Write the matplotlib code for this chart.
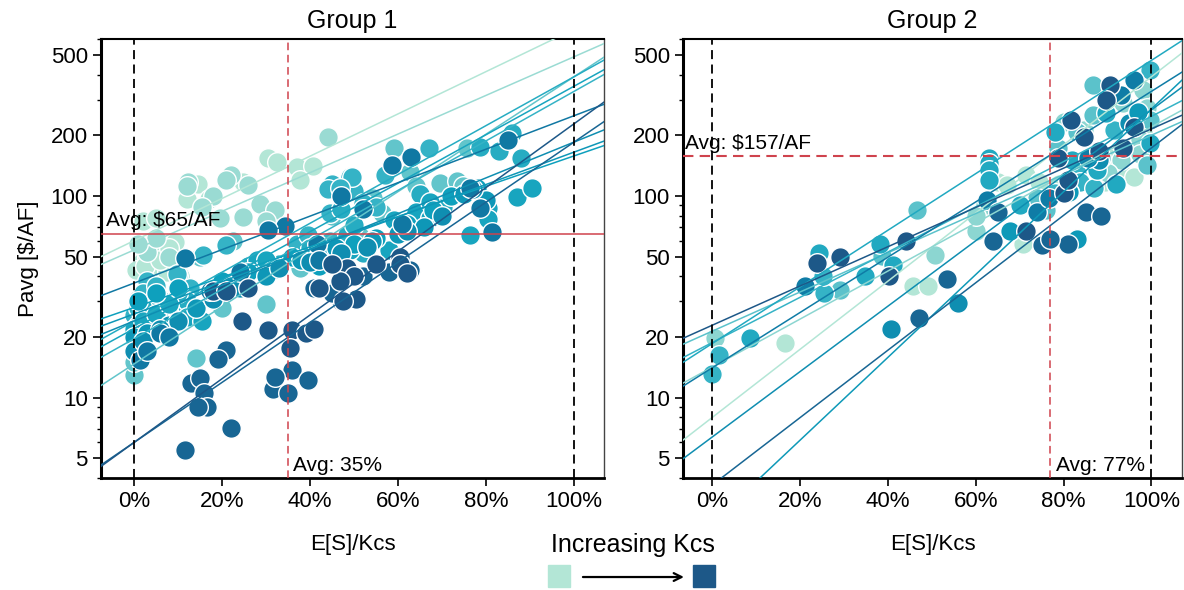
import matplotlib
matplotlib.use("Agg")
import matplotlib.pyplot as plt
import numpy as np
from matplotlib.colors import LinearSegmentedColormap
from matplotlib.ticker import PercentFormatter, FixedLocator, LogLocator, NullFormatter, FuncFormatter
from matplotlib.patches import Rectangle

plt.rcParams['font.family'] = ['Liberation Sans', 'DejaVu Sans']

kcs_cmap = LinearSegmentedColormap.from_list(
    'kcs', ['#b3e6d6', '#7fd0cf', '#35b3c6', '#0ea0bd', '#0f7ca6', '#1d5888'])

# ---- Group 1 ----  (x in % of Kcs, y in $/AF)
g1_level = [0.00, 0.10, 0.28, 0.40, 0.48, 0.55, 0.60, 0.65, 0.70, 0.82, 0.92, 1.00]
g1_fit0 = [60, 54, 14.7, 19.6, 24, 22, 28, 26, 24, 37, 6.0, 6.0]
g1_fit1 = [670, 490, 390, 330, 390, 350, 158, 165, 185, 250, 185, 228]
g1_x = [
    [1.8, 3, 4.3, 6.6, 4.8, 7.5, 9.3, 12, 14.5, 17, 24.8, 30.5, 32.5, 37, 40.7, 37.7, 2, 5, 0.5, 2.5, 6, 8],
    [12.3, 22, 21, 18, 15.5, 28.6, 32, 30, 24.8, 19.5, 10.5, 1, 44, 12, 26, 8, 3, 5, 1],
    [0, 0, 0.5, 14, 20, 30, 15, 22.5, 45, 59, 62.7, 64, 69.5, 73.4, 74.8, 75.7, 54.3, 56.4, 51.4, 37.7, 10, 5],
    [0, 4, 6, 9.8, 12.7, 15.7, 21, 25.7, 37, 39.5, 44.5, 45, 49, 44, 50, 44.5, 67, 57, 49.5, 46.8, 1, 3,
     2, 5, 7, 9, 52, 55],
    [0.7, 4, 8, 12, 18, 26, 33, 40, 48.4, 52, 60, 65, 70.2, 78.6, 83, 86, 88, 1, 3, 6, 10, 47, 50],
    [0, 2, 7, 12, 15.5, 28, 30, 31.6, 45, 49, 58, 59, 64, 67.3, 67.3, 76.4, 80.5, 80.5, 87, 90.5, 2, 5, 8],
    [1, 5, 10, 20, 26, 36, 42, 50, 55, 62, 68, 72, 78],
    [0, 3, 8, 14, 22, 30, 38, 46, 54, 60, 66, 75, 80],
    [0, 2, 6, 10, 18, 24, 33, 40, 47, 53, 62, 70, 77],
    [34.3, 30.5, 11.6, 24, 17.3, 41.5, 42, 58.6, 63, 85, 61, 78.6, 76.4, 81.4, 52, 47, 1.4, 6, 8, 3],
    [13, 15, 16, 16.5, 14.5, 22, 11.5, 21, 19, 31.5, 35, 36, 39.5, 32, 47, 52, 58, 62.7, 41, 45],
    [24.5, 30.5, 36, 39, 41, 35.5, 50.5, 47.5, 55, 60.5, 60.5, 62, 48.4, 50, 46.8, 42, 45, 18, 21, 26],
]
g1_y = [
    [47, 50, 56, 57, 44, 42, 59, 97, 115, 97, 117, 155, 148, 140, 141, 120, 75, 78, 43, 45, 48, 55],
    [117, 127, 120, 100, 88, 91, 85, 75, 79, 78, 40, 31, 197, 112, 114, 50, 53, 62, 58],
    [13, 15, 18, 15.8, 28, 29, 50, 60, 80, 172, 131, 112, 116, 119, 112, 172, 98, 82, 63, 44, 40, 30],
    [25.6, 31, 24, 41, 35, 51, 57, 44, 58, 64, 60, 115, 124, 108, 106, 82, 172, 127, 124, 110, 28, 38,
     33, 36, 30, 28, 92, 88],
    [19, 22, 26, 30, 33, 45, 46, 55, 64, 52, 70, 102, 88, 174, 168, 205, 154, 23, 27, 31, 33, 86, 72],
    [22, 24, 27, 25, 24, 48, 48, 43, 54, 54, 54, 76, 83, 93, 78, 64, 87, 77, 99, 109, 21, 26, 29],
    [30, 33, 35, 38, 42, 50, 45, 58, 62, 73, 85, 100, 110],
    [20, 21, 23, 28, 36, 40, 48, 55, 60, 65, 70, 102, 95],
    [17, 19, 22, 24, 31, 35, 44, 47, 52, 56, 67, 80, 108],
    [71, 68, 49, 42, 34, 58, 48, 142, 156, 189, 73, 87, 110, 66, 86, 100, 15.3, 21, 20, 17],
    [11.8, 12.5, 10.5, 9.0, 9.0, 7.1, 5.5, 17.3, 15.6, 11.1, 10.5, 13.8, 12.3, 12.7, 30, 40, 42, 43, 35, 33],
    [24, 21.7, 21.7, 21, 22, 17.6, 31, 30, 46, 50, 46, 41.5, 44, 40, 38, 35, 46, 34, 34, 35],
]
g1_avg_x = 35
g1_avg_p = 65

# ---- Group 2 ----
g2_level = [0.00, 0.15, 0.30, 0.40, 0.50, 0.70, 0.64, 0.80, 0.92, 1.00]
g2_fit0 = [8.0, 14.2, 21.4, 18.8, 18.6, 6.4, 2.4, 14.1, 3.7, 22.9]
g2_fit1 = [390, 220, 200, 248, 470, 267, 270, 330, 173, 215]
g2_x = [
    [16.5, 45.8, 49, 65, 67, 71.5, 74.5, 70.8, 91.5, 93, 96, 89.5, 98, 79],
    [0.6, 50.8, 60, 62, 60, 78.7, 80, 84.7, 93.6, 98, 99, 97.5, 93, 97.5, 90.2],
    [46.7, 29, 38.6, 86.8, 86.8, 83, 78.7, 76, 74, 99.6, 88.6, 99],
    [1.5, 0, 25.4, 25.2, 83, 83.8, 87, 78, 99.6, 91.5],
    [8.5, 24.3, 34.8, 38.2, 41.2, 63, 63, 63, 63, 70, 78, 82, 87.7, 89.7, 92, 81.3, 99.6],
    [40.7, 56, 88, 95],
    [67.8, 83, 81.3, 97],
    [21, 74, 76.7, 85.6, 93, 96, 62.6],
    [47, 64, 65, 75, 81, 85, 88.6, 53.5, 77],
    [23.8, 29, 40.3, 44, 71.5, 80, 81, 78.7, 84.7, 88, 93.6, 96, 90.6, 89.7, 81.8],
]
g2_y = [
    [18.6, 36, 36, 117, 113, 127, 117, 58, 155, 131, 124, 117, 207, 115],
    [19.7, 51, 67, 90, 80, 164, 232, 212, 288, 335, 272, 189, 150, 162, 130],
    [85, 34.2, 50.5, 355, 252, 207, 172, 85, 98, 238, 155, 142],
    [16.3, 13.1, 33, 40, 130, 117, 110, 103, 421, 212],
    [19.7, 52, 40.2, 58, 45.5, 155, 145, 134, 120, 90, 207, 150, 134, 258, 115, 105, 183],
    [21.9, 29.5, 150, 230],
    [67, 61, 105, 260],
    [35.7, 83, 98, 154, 317, 375, 95],
    [24.9, 60, 83, 57, 58, 83, 80, 38.6, 61],
    [46.5, 50, 40, 60, 67, 103, 120, 155, 197, 168, 172, 220, 355, 298, 238],
]
g2_avg_x = 77
g2_avg_p = 157

red = '#cf434d'


def draw_panel(ax, title, levels, fit0, fit1, xs, ys, xlim):
    grid = np.linspace(xlim[0], xlim[1], 50)
    for lev, a, b, px, py in zip(levels, fit0, fit1, xs, ys):
        col = kcs_cmap(lev)
        ax.scatter(np.array(px) / 100, py, s=200, color=col, edgecolor='white',
                   linewidth=1.0, zorder=2)
        ax.plot(grid, a * (b / a) ** grid, color=col, lw=1.1, zorder=3)
    ax.set_yscale('log')
    ax.set_xlim(xlim)
    ax.set_ylim(4, 600)
    ax.yaxis.set_major_locator(FixedLocator([5, 10, 20, 50, 100, 200, 500]))
    ax.yaxis.set_major_formatter(FuncFormatter(lambda v, p: '%d' % v))
    ax.yaxis.set_minor_locator(LogLocator(subs=np.arange(2, 10)))
    ax.yaxis.set_minor_formatter(NullFormatter())
    ax.set_xticks([0, 0.2, 0.4, 0.6, 0.8, 1.0])
    ax.xaxis.set_major_formatter(PercentFormatter(xmax=1, decimals=0))
    ax.tick_params(axis='both', which='major', labelsize=16, length=6, width=1.2)
    ax.tick_params(axis='y', which='minor', length=3, width=1)
    ax.set_title(title, fontsize=18, pad=8)
    ax.set_xlabel('E[S]/Kcs', fontsize=16, labelpad=16)
    for v in (0, 1):
        ax.axvline(v, color='black', lw=1.3, ls=(0, (5, 3)), zorder=4)
    ax.spines['left'].set_linewidth(2.2)
    ax.spines['bottom'].set_linewidth(2.0)
    ax.spines['top'].set_linewidth(1.5)
    ax.spines['right'].set_linewidth(1.0)
    ax.spines['right'].set_color('#444444')


fig = plt.figure(figsize=(11.84, 5.9), dpi=100)
ax1 = fig.add_axes([0.0853, 0.1898, 0.4248, 0.7441])
ax2 = fig.add_axes([0.5769, 0.1898, 0.4215, 0.7441])

draw_panel(ax1, 'Group 1', g1_level, g1_fit0, g1_fit1, g1_x, g1_y, (-0.075, 1.068))
draw_panel(ax2, 'Group 2', g2_level, g2_fit0, g2_fit1, g2_x, g2_y, (-0.067, 1.07))

ax1.set_ylabel('Pavg [$/AF]', fontsize=16, labelpad=8)

# average markers
ax1.axvline(g1_avg_x / 100, color=red, lw=1.1, ls=(0, (5, 3)), zorder=4)
ax1.axhline(g1_avg_p, color=red, lw=1.1, zorder=4)
ax1.text(-0.064, g1_avg_p * 1.04, 'Avg: $%d/AF' % g1_avg_p, fontsize=15,
         ha='left', va='bottom', zorder=5)
ax1.text(g1_avg_x / 100 + 0.012, 4.15, 'Avg: %d%%' % g1_avg_x, fontsize=15,
         ha='left', va='bottom', zorder=5)

ax2.axvline(g2_avg_x / 100, color=red, lw=1.1, ls=(0, (5, 3)), zorder=4)
ax2.axhline(g2_avg_p, color=red, lw=1.5, ls=(0, (5, 3)), zorder=4)
ax2.text(-0.062, g2_avg_p * 1.04, 'Avg: $%d/AF' % g2_avg_p, fontsize=15,
         ha='left', va='bottom', zorder=5)
ax2.text(g2_avg_x / 100 + 0.012, 4.15, 'Avg: %d%%' % g2_avg_x, fontsize=15,
         ha='left', va='bottom', zorder=5)

# colour legend at bottom
fig.text(0.5346, 0.077, 'Increasing Kcs', fontsize=18, ha='center', va='center')
fig.patches.append(Rectangle((0.4628, 0.0051), 0.0186, 0.0373, color=kcs_cmap(0.0),
                             transform=fig.transFigure, figure=fig))
fig.patches.append(Rectangle((0.5853, 0.0051), 0.0186, 0.0373, color=kcs_cmap(1.0),
                             transform=fig.transFigure, figure=fig))
fig.add_artist(matplotlib.patches.FancyArrowPatch(
    (0.490, 0.022), (0.580, 0.022), transform=fig.transFigure,
    arrowstyle='->', mutation_scale=14, lw=1.6, color='black'))

fig.savefig('out.png', dpi=100)
